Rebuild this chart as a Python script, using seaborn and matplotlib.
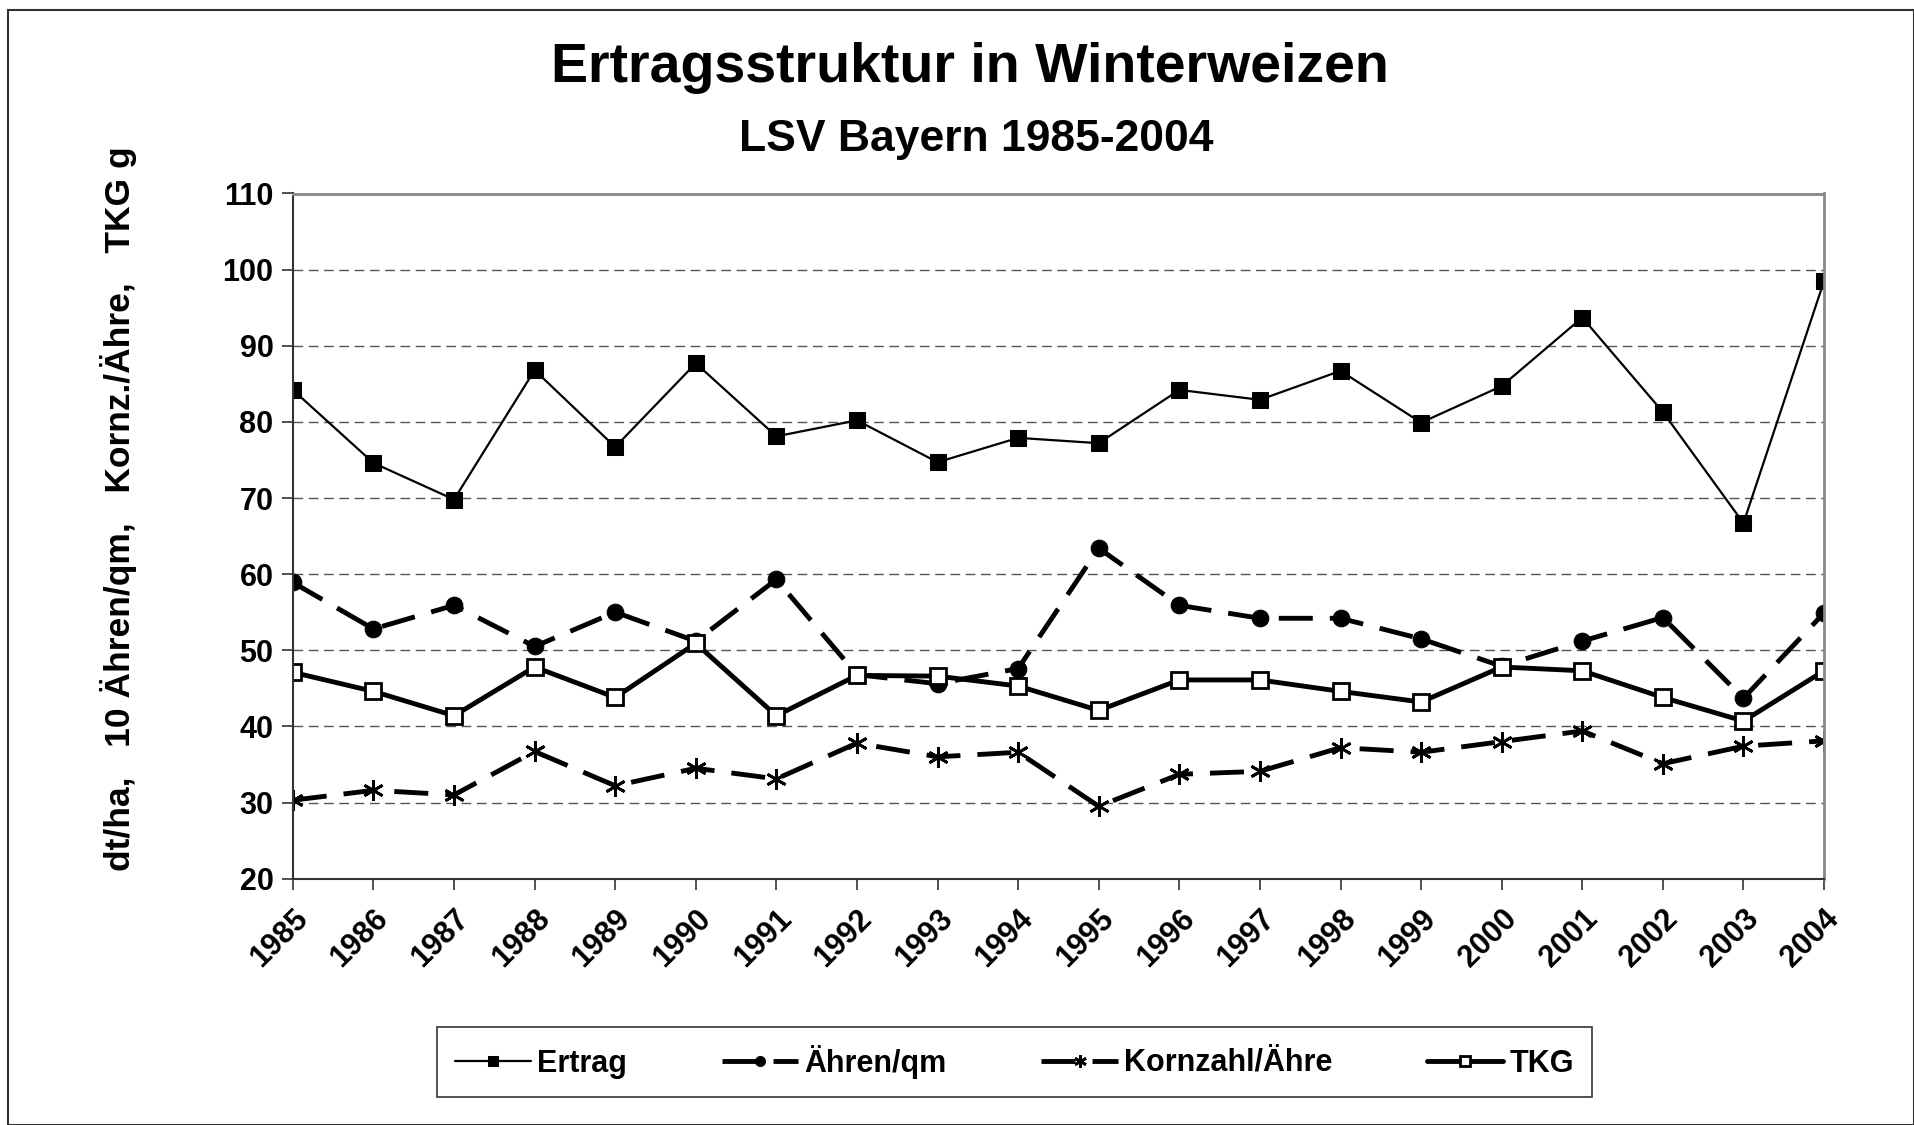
import matplotlib
matplotlib.use('Agg')
import matplotlib.pyplot as plt
import seaborn as sns
import pandas as pd
from matplotlib.patches import Rectangle

# values
years = list(range(1985, 2005))
ertrag = [84.2, 74.6, 69.8, 86.8, 76.7, 87.7, 78.1, 80.2, 74.7, 77.9,
          77.2, 84.2, 82.9, 86.7, 79.9, 84.7, 93.7, 81.3, 66.7, 98.5]
aehren = [58.9, 52.8, 55.9, 50.5, 55.0, 51.2, 59.3, 46.8, 45.6, 47.6,
          63.4, 55.9, 54.2, 54.2, 51.5, 47.9, 51.2, 54.3, 43.7, 54.9]
kornzahl = [30.3, 31.6, 31.0, 36.7, 32.2, 34.5, 33.1, 37.8, 36.0, 36.6,
            29.5, 33.7, 34.1, 37.2, 36.6, 38.0, 39.4, 35.1, 37.4, 38.1]
tkg = [47.1, 44.6, 41.4, 47.8, 43.8, 50.9, 41.4, 46.7, 46.6, 45.3,
       42.1, 46.1, 46.1, 44.6, 43.2, 47.8, 47.3, 43.8, 40.7, 47.3]

df = pd.DataFrame({'Jahr': years, 'Ertrag': ertrag, 'Ähren/qm': aehren,
                   'Kornzahl/Ähre': kornzahl, 'TKG': tkg})

sns.set_style('white')
plt.rcParams['font.family'] = ['Liberation Sans', 'DejaVu Sans']
plt.rcParams['font.weight'] = 'bold'
plt.rcParams['text.color'] = 'black'
plt.rcParams['axes.labelcolor'] = 'black'
plt.rcParams['xtick.color'] = 'black'
plt.rcParams['ytick.color'] = 'black'

fig = plt.figure(figsize=(19.14, 11.25), dpi=100)
ax = fig.add_axes([0.153, 0.219, 0.800, 0.609])

# outer frame of the chart area
fig.patches.append(Rectangle((0.004, 0.0), 0.996, 0.991, transform=fig.transFigure,
                             fill=False, edgecolor='#333333', linewidth=1.5))

sns.lineplot(data=df, x='Jahr', y='Ertrag', ax=ax, color='black', linewidth=1.6,
             marker='s', markersize=12, markerfacecolor='black', markeredgecolor='black',
             label='Ertrag')
sns.lineplot(data=df, x='Jahr', y='Ähren/qm', ax=ax, color='black', linewidth=3.5,
             marker='o', markersize=12, markerfacecolor='black',
             markeredgecolor='black', label='Ähren/qm')
sns.lineplot(data=df, x='Jahr', y='Kornzahl/Ähre', ax=ax, color='black', linewidth=3.5,
             marker=(6, 2, 0), markersize=15, markeredgewidth=2, markeredgecolor='black',
             label='Kornzahl/Ähre')
sns.lineplot(data=df, x='Jahr', y='TKG', ax=ax, color='black', linewidth=3.5,
             marker='s', markersize=12, markerfacecolor='white', markeredgecolor='black',
             markeredgewidth=2, label='TKG')

# long dashes for Ähren and Kornzahl
ax.lines[1].set_dashes((7, 3.5))
ax.lines[2].set_dashes((7, 3.5))

ax.set_xlim(1985, 2004)
ax.set_ylim(20, 110)
ax.set_xticks(years)
ax.set_xticklabels([str(y) for y in years], rotation=45, ha='right',
                   rotation_mode='anchor', fontsize=22, fontweight='bold')
ax.set_yticks(range(20, 111, 10))
ax.set_yticklabels([str(v) for v in range(20, 111, 10)], fontsize=22, fontweight='bold')
ax.tick_params(axis='both', direction='out', length=8, width=1.2, color='#333333',
               bottom=True, left=True, pad=6)
ax.tick_params(axis='x', pad=10)

for v in range(30, 110, 10):
    ax.axhline(v, color='#555555', linewidth=1.0, dashes=(7, 4), zorder=0)

for side in ['top', 'right']:
    ax.spines[side].set_color('#888888')
    ax.spines[side].set_linewidth(2)
for side in ['left', 'bottom']:
    ax.spines[side].set_color('#333333')
    ax.spines[side].set_linewidth(1.5)

ax.set_xlabel('')
ax.set_ylabel('dt/ha,   10 Ähren/qm,   Kornz./Ähre,   TKG g', fontsize=25.5,
              fontweight='bold')
ax.yaxis.set_label_coords(-0.102, 0.54)

fig.text(0.507, 0.94, 'Ertragsstruktur in Winterweizen', ha='center', va='center',
         fontsize=40, fontweight='bold')
fig.text(0.51, 0.876, 'LSV Bayern 1985-2004', ha='center', va='center',
         fontsize=32, fontweight='bold')

ax.get_legend().remove()
handles, labels = ax.get_legend_handles_labels()
leg = fig.legend(handles, labels, loc='center', bbox_to_anchor=(0.530, 0.056), ncol=4,
                 frameon=True, fancybox=False, edgecolor='black',
                 handlelength=2.5, columnspacing=3.1, handletextpad=0.2,
                 borderpad=0.6, markerscale=0.6, prop={'weight': 'bold', 'size': 22})
leg.get_frame().set_linewidth(1.2)

fig.savefig('out.png', dpi=100)
